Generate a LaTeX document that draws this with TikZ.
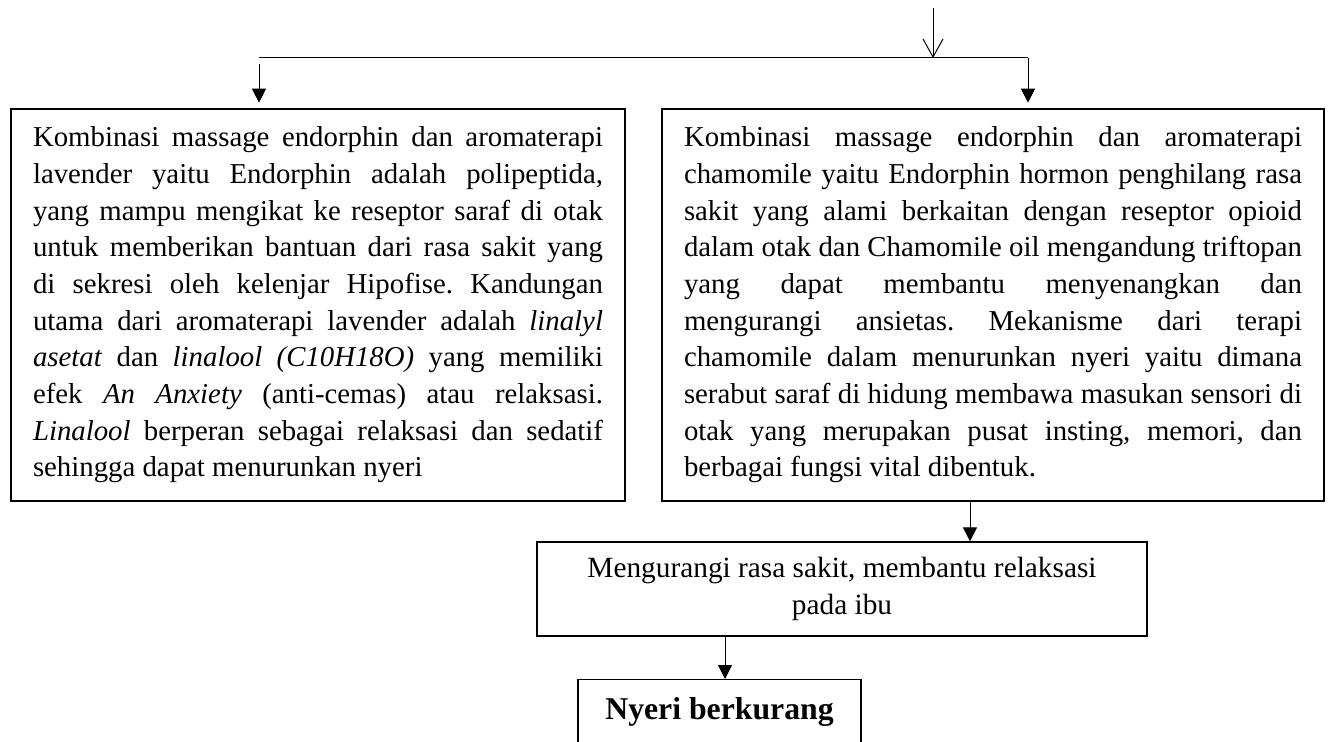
\documentclass[tikz,border=0pt]{standalone}
\usepackage{fontspec}
\setmainfont{Liberation Serif}
\usetikzlibrary{arrows.meta}
\newcommand{\fullline}[1]{\hbox to\hsize{#1}}
\begin{document}
\begin{tikzpicture}[x=0.75pt,y=-0.75pt,
    bigbox/.style={draw,line width=1.5pt,anchor=north west,inner xsep=16.5pt,inner ysep=13pt,
      minimum height=294pt,align=justify,font=\fontsize{21.6}{27.5}\selectfont\frenchspacing},
    smallbox/.style={draw,line width=1pt,align=center},
    arr/.style={-{Triangle[length=10.5pt,width=10.5pt]},line width=0.75pt}]
  \useasboundingbox (0,0) rectangle (1331,742);
  \node[bigbox,text width=427.5pt] (lav) at (10,108) {%
    \fullline{Kombinasi massage endorphin dan aromaterapi}
    \fullline{lavender yaitu Endorphin adalah polipeptida,}
    \fullline{yang mampu mengikat ke reseptor saraf di otak}
    \fullline{untuk memberikan bantuan dari rasa sakit yang}
    \fullline{di sekresi oleh kelenjar Hipofise. Kandungan}
    \fullline{utama dari aromaterapi lavender adalah \textit{linalyl}}
    \fullline{\textit{asetat} dan \textit{linalool (C10H18O)} yang memiliki}
    \fullline{efek \textit{An Anxiety} (anti-cemas) atau relaksasi.}
    \fullline{\textit{Linalool} berperan sebagai relaksasi dan sedatif}
    \hbox{sehingga dapat menurunkan nyeri}};
  \node[bigbox,text width=463.5pt] (cham) at (661,108) {%
    \fullline{Kombinasi massage endorphin dan aromaterapi}
    \fullline{chamomile yaitu Endorphin hormon penghilang rasa}
    \fullline{sakit yang alami berkaitan dengan reseptor opioid}
    \fullline{dalam otak dan Chamomile oil mengandung triftopan}
    \fullline{yang dapat membantu menyenangkan dan}
    \fullline{mengurangi ansietas. Mekanisme dari terapi}
    \fullline{chamomile dalam menurunkan nyeri yaitu dimana}
    \fullline{serabut saraf di hidung membawa masukan sensori di}
    \fullline{otak yang merupakan pusat insting, memori, dan}
    \hbox{berbagai fungsi vital dibentuk.}};
  \node[smallbox,minimum width=457.5pt,minimum height=70.5pt,
    font=\fontsize{22}{27.5}\selectfont] (ease) at (842,589)
    {Mengurangi rasa sakit, membantu relaksasi\\pada ibu};
  \node[smallbox,anchor=north,minimum width=212.25pt,inner ysep=13.2pt,text depth=10pt,
    font=\fontsize{23.8}{28}\selectfont\bfseries] (less) at (719.5,679) {Nyeri berkurang};
  \coordinate (in) at (933,8);
  \coordinate (split) at (933,58);
  \coordinate (sl) at (259,58);
  \coordinate (sr) at (1028,58);
  \coordinate (la) at (259,64);
  \coordinate (c1) at (970,0);
  \coordinate (c2) at (725,0);
  \begin{scope}[line width=0.75pt]
    \draw[-{Straight Barb[length=13.5pt,width=15pt]}] (in) to (split);
    \draw (sl) to (sr);
    \draw[arr,shorten >=4pt] (la) to (la |- lav.north);
    \draw[arr,shorten >=4pt] (sr) to (sr |- cham.north);
    \draw[arr] (c1 |- cham.south) to (c1 |- ease.north);
    \draw[arr] (c2 |- ease.south) to (c2 |- less.north);
  \end{scope}
\end{tikzpicture}
\end{document}
